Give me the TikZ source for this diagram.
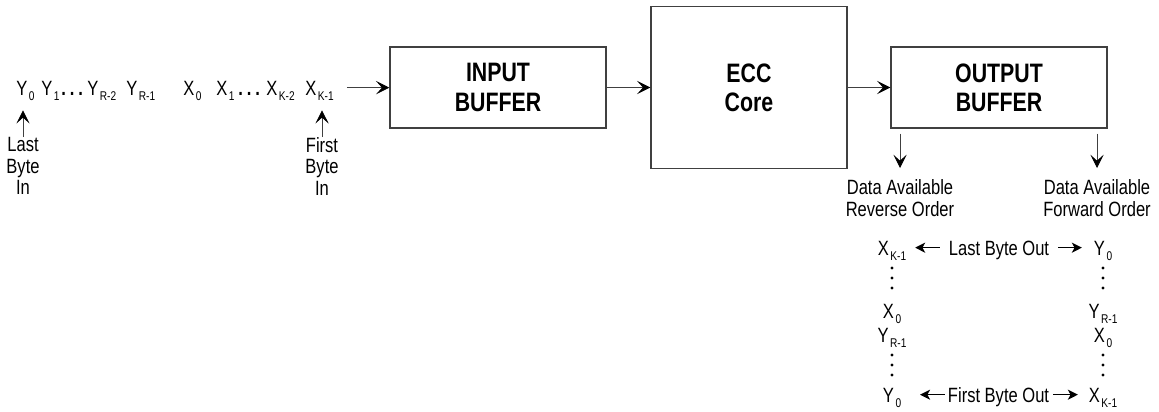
\documentclass[tikz,border=0pt]{standalone}
\usepackage{fontspec}
\setmainfont{Liberation Sans}[FakeStretch=0.8]
\usetikzlibrary{arrows.meta, positioning}
\newcommand{\bytesub}[2]{#1\kern1.2pt\raisebox{-3.8pt}{\fontsize{9.5}{9.5}\selectfont #2}}
\newcommand{\seqdots}{{\bfseries .\kern3pt.\kern3pt.}}

\tikzset{
	block/.style = {draw=black!75, line width=1pt, align=center, font=\fontsize{20}{22}\selectfont\bfseries},
	sym/.style = {inner sep=0pt, text height=11pt, text depth=0pt, font=\fontsize{15.5}{16}\selectfont},
	note/.style = {inner sep=0pt, align=center, font=\fontsize{15.5}{16}\selectfont},
	flow/.style = {draw=black!75, line width=0.6pt, -{Stealth[length=10pt, width=10pt, inset=4.5pt, black]}},
	outarrow/.style = {line width=1.2pt, -{Stealth[length=7.5pt, width=7.5pt, inset=2pt]}}
}

\begin{document}
\begin{tikzpicture}[x=0.75pt, y=-0.75pt]
	\useasboundingbox (0,0) rectangle (1159,411);
	
	% blocks
	\node[block, minimum width=162pt, minimum height=60.75pt] (inbuf) at (498,87.5) {INPUT\\BUFFER};
	\node[block, minimum width=147pt, minimum height=121.5pt] (ecc) at (749,87.5) {ECC\\Core};
	\node[block, minimum width=162pt, minimum height=60.75pt] (outbuf) at (999,87.5) {OUTPUT\\BUFFER};
	
	% input byte stream
	\node[sym, anchor=base west] (y0) at (16,95) {\bytesub{Y}{0}};
	\node[sym, anchor=base west] (y1) at (41,95) {\bytesub{Y}{1}};
	\node[sym, anchor=base west] (ydots) at (61,95) {\seqdots};
	\node[sym, anchor=base west] (yr2) at (87,95) {\bytesub{Y}{R-2}};
	\node[sym, anchor=base west] (yr1) at (126,95) {\bytesub{Y}{R-1}};
	\node[sym, anchor=base west] (x0) at (183,95) {\bytesub{X}{0}};
	\node[sym, anchor=base west] (x1) at (216,95) {\bytesub{X}{1}};
	\node[sym, anchor=base west] (xdots) at (238,95) {\seqdots};
	\node[sym, anchor=base west] (xk2) at (266,95) {\bytesub{X}{K-2}};
	\node[sym, anchor=base west] (xk1) at (305,95) {\bytesub{X}{K-1}};
	
	\node[note, anchor=north] (lastin) at (23,137.2) {Last\\Byte\\In};
	\node[note, anchor=north] (firstin) at (322,137.2) {First\\Byte\\In};
	\draw[flow, shorten >=11.25pt] (lastin.north) -- (lastin.north |- y0.south);
	\draw[flow, shorten >=11.25pt] (firstin.north) -- (firstin.north |- xk1.south);
	
	% data path
	\draw[flow, shorten <=9.75pt] (xk1.east) -- (xk1.east -| inbuf.west);
	\draw[flow] (inbuf) -- (ecc);
	\draw[flow] (ecc) -- (outbuf);
	
	\node[note, anchor=north, font=\fontsize{15.5}{16.5}\selectfont] (revtxt) at (900,179) {Data Available\\Reverse Order};
	\node[note, anchor=north, font=\fontsize{15.5}{16.5}\selectfont] (fwdtxt) at (1097,179) {Data Available\\Forward Order};
	\draw[flow, shorten <=3.75pt, shorten >=8.25pt] (outbuf.south -| revtxt.north) -- (revtxt.north);
	\draw[flow, shorten <=3.75pt, shorten >=8.25pt] (outbuf.south -| fwdtxt.north) -- (fwdtxt.north);
	
	% output orders
	\node[sym, anchor=base] (lxk) at (892,255) {\bytesub{X}{K-1}};
	\node[sym, anchor=base] (lx0) at (892,318) {\bytesub{X}{0}};
	\node[sym, anchor=base] (lyr) at (892,342) {\bytesub{Y}{R-1}};
	\node[sym, anchor=base] (ly0) at (892,402) {\bytesub{Y}{0}};
	\node[sym, anchor=base] (ry0) at (1103,255) {\bytesub{Y}{0}};
	\node[sym, anchor=base] (ryr) at (1103,318) {\bytesub{Y}{R-1}};
	\node[sym, anchor=base] (rx0) at (1103,342) {\bytesub{X}{0}};
	\node[sym, anchor=base] (rxk) at (1103,402) {\bytesub{X}{K-1}};
	
	\node[sym, anchor=base] (lastout) at (999,255) {Last Byte Out};
	\node[sym, anchor=base] (firstout) at (998.5,402) {First Byte Out};
	\draw[outarrow, shorten <=6.75pt, shorten >=6.5pt] (lastout) -- (lxk);
	\draw[outarrow, shorten <=6.75pt, shorten >=8.8pt] (lastout) -- (ry0);
	\draw[outarrow, shorten <=2.25pt, shorten >=14pt] (firstout) -- (ly0);
	\draw[outarrow, shorten <=3pt, shorten >=8pt] (firstout) -- (rxk);
	
	\foreach \yy in {268,278,288,355,365,375}
		\fill (892,\yy) circle[radius=1.2pt] (1103,\yy) circle[radius=1.2pt];
\end{tikzpicture}
\end{document}
